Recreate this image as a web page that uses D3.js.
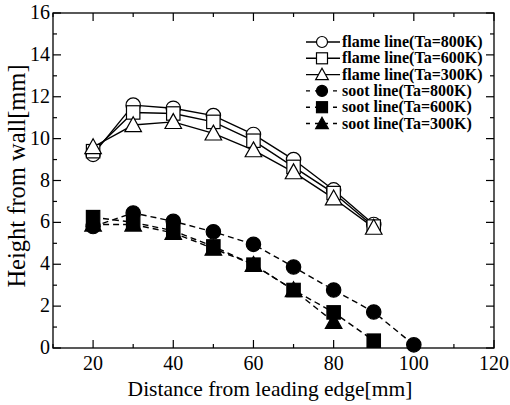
<!DOCTYPE html>
<html>
<head>
<meta charset="utf-8">
<script src="https://cdn.jsdelivr.net/npm/d3@7"></script>
<style>
  body { margin: 0; background: #fff; }
</style>
</head>
<body>
<div id="chart"></div>
<script>
// data
var flameX = [20, 30, 40, 50, 60, 70, 80, 90];
var flame800 = [9.25, 11.6, 11.45, 11.1, 10.2, 9.0, 7.55, 5.9];
var flame600 = [9.4, 11.25, 11.2, 10.8, 9.9, 8.65, 7.4, 5.8];
var flame300 = [9.6, 10.65, 10.8, 10.25, 9.45, 8.4, 7.15, 5.75];

var sootX800 = [20, 30, 40, 50, 60, 70, 80, 90, 100];
var soot800 = [5.8, 6.45, 6.05, 5.55, 4.95, 3.87, 2.77, 1.72, 0.15];
var sootX600 = [20, 30, 40, 50, 60, 70, 80, 90];
var soot600 = [6.25, 6.0, 5.6, 4.85, 3.98, 2.77, 1.7, 0.35];
var sootX300 = [20, 30, 40, 50, 60, 70, 80];
var soot300 = [5.9, 5.9, 5.5, 4.75, 3.98, 2.77, 1.25];

var xTicks = [20, 40, 60, 80, 100, 120];
var yTicks = [0, 2, 4, 6, 8, 10, 12, 14, 16];

var legendLabels = ["flame line(Ta=800K)", "flame line(Ta=600K)", "flame line(Ta=300K)",
                    "soot line(Ta=800K)", "soot line(Ta=600K)", "soot line(Ta=300K)"];

var width = 510, height = 405;
var plotL = 53, plotR = 494, plotT = 13, plotB = 348;
var serif = "'Liberation Serif'";

var svg = d3.select("#chart").append("svg")
  .attr("width", width)
  .attr("height", height);

var xScale = d3.scaleLinear().domain([10, 120]).range([plotL, plotR]);
var yScale = d3.scaleLinear().domain([0, 16]).range([plotB, plotT]);

// frame
svg.append("rect")
  .attr("x", plotL).attr("y", plotT)
  .attr("width", plotR - plotL).attr("height", plotB - plotT)
  .attr("fill", "none").attr("stroke", "#000").attr("stroke-width", 1.3);

// inward ticks on all four sides
var xMinor = d3.range(10, 121, 10);
var yMinor = d3.range(0, 16.1, 1);
var ticks = svg.append("g").attr("stroke", "#000").attr("stroke-width", 1.2);
xMinor.forEach(function (v) {
  var len = (v % 20 === 0) ? 8 : 4;
  ticks.append("line").attr("x1", xScale(v)).attr("x2", xScale(v))
    .attr("y1", plotB).attr("y2", plotB - len);
  ticks.append("line").attr("x1", xScale(v)).attr("x2", xScale(v))
    .attr("y1", plotT).attr("y2", plotT + len);
});
yMinor.forEach(function (v) {
  var len = (v % 2 === 0) ? 8 : 4;
  ticks.append("line").attr("y1", yScale(v)).attr("y2", yScale(v))
    .attr("x1", plotL).attr("x2", plotL + len);
  ticks.append("line").attr("y1", yScale(v)).attr("y2", yScale(v))
    .attr("x1", plotR).attr("x2", plotR - len);
});

// tick labels
svg.append("g").selectAll("text").data(xTicks).enter().append("text")
  .attr("x", function (d) { return xScale(d); })
  .attr("y", plotB + 22)
  .attr("text-anchor", "middle")
  .style("font-family", serif)
  .attr("font-size", 20)
  .text(function (d) { return d; });

svg.append("g").selectAll("text").data(yTicks).enter().append("text")
  .attr("x", plotL - 3)
  .attr("y", function (d) { return yScale(d) + 6; })
  .attr("text-anchor", "end")
  .style("font-family", serif)
  .attr("font-size", 20)
  .text(function (d) { return d; });

// axis titles
svg.append("text")
  .attr("x", 270)
  .attr("y", 396)
  .attr("text-anchor", "middle")
  .style("font-family", serif)
  .attr("font-size", 21.5)
  .text("Distance from leading edge[mm]");

svg.append("text")
  .attr("transform", "translate(25,176)rotate(-90)")
  .attr("text-anchor", "middle")
  .style("font-family", serif)
  .attr("font-size", 24.5)
  .text("Height from wall[mm]");

// markers
function drawMarker(g, shape, filled, cx, cy, sz) {
  var fill = filled ? "#000" : "#fff";
  if (shape === "circle") {
    g.append("circle").attr("cx", cx).attr("cy", cy).attr("r", sz)
      .attr("fill", fill).attr("stroke", "#000").attr("stroke-width", 1.2);
  } else if (shape === "square") {
    g.append("rect").attr("x", cx - sz).attr("y", cy - sz)
      .attr("width", 2 * sz).attr("height", 2 * sz)
      .attr("fill", fill).attr("stroke", "#000").attr("stroke-width", 1.2);
  } else {
    var h = sz * 1.15;
    g.append("path")
      .attr("d", "M" + cx + "," + (cy - h) + "L" + (cx + h) + "," + (cy + h * 0.8) + "L" + (cx - h) + "," + (cy + h * 0.8) + "Z")
      .attr("fill", fill).attr("stroke", "#000").attr("stroke-width", 1.2);
  }
}

var series = [
  { xs: flameX, ys: flame800, shape: "circle", filled: false, dash: null },
  { xs: flameX, ys: flame600, shape: "square", filled: false, dash: null },
  { xs: flameX, ys: flame300, shape: "triangle", filled: false, dash: null },
  { xs: sootX800, ys: soot800, shape: "circle", filled: true, dash: "6,4" },
  { xs: sootX600, ys: soot600, shape: "square", filled: true, dash: "6,4" },
  { xs: sootX300, ys: soot300, shape: "triangle", filled: true, dash: "6,4" }
];

var line = d3.line()
  .x(function (d) { return xScale(d[0]); })
  .y(function (d) { return yScale(d[1]); });

series.forEach(function (s) {
  var pts = s.xs.map(function (x, i) { return [x, s.ys[i]]; });
  svg.append("path")
    .datum(pts)
    .attr("d", line)
    .attr("fill", "none")
    .attr("stroke", "#000")
    .attr("stroke-width", 1.4)
    .attr("stroke-dasharray", s.dash);
});

series.forEach(function (s) {
  var g = svg.append("g");
  s.xs.forEach(function (x, i) {
    drawMarker(g, s.shape, s.filled, xScale(x), yScale(s.ys[i]), s.shape === "square" ? 6.7 : 7.2);
  });
});

// legend
var legY0 = 42, legStep = 16.3;
series.forEach(function (s, i) {
  var y = legY0 + i * legStep;
  var g = svg.append("g");
  g.append("line").attr("x1", 306).attr("x2", 340)
    .attr("y1", y).attr("y2", y)
    .attr("stroke", "#000").attr("stroke-width", 1.4)
    .attr("stroke-dasharray", s.dash ? "4,5" : null);
  drawMarker(g, s.shape, s.filled, 322, y, 5.5);
  g.append("text")
    .attr("x", 342).attr("y", y + 5)
    .style("font-family", serif)
    .attr("font-size", 16)
    .attr("font-weight", "bold")
    .text(legendLabels[i]);
});
</script>
</body>
</html>
